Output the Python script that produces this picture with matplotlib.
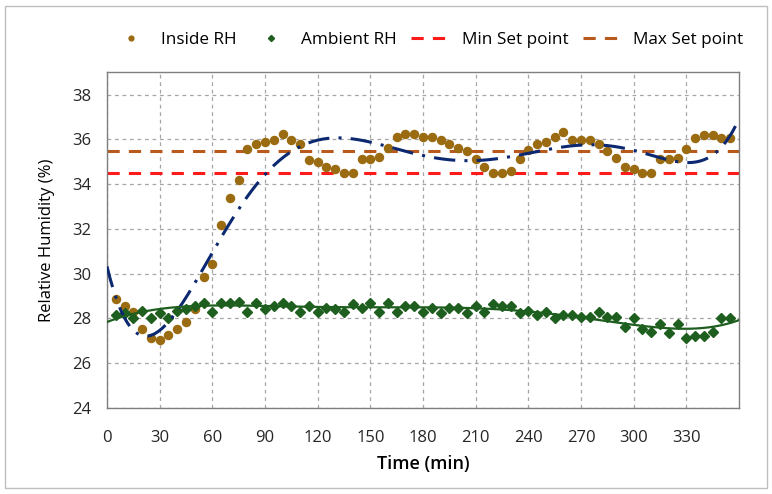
import numpy as np
import matplotlib.pyplot as plt
from matplotlib.patches import Rectangle

# ---- data ----
time_min = np.arange(5, 360, 5)

inside_rh = [28.85, 28.57, 28.29, 27.54, 27.11, 27.02, 27.25, 27.54, 27.84, 28.43,
             29.86, 30.45, 32.16, 33.39, 34.19, 35.58, 35.79, 35.90, 35.98, 36.22,
             35.97, 35.79, 35.07, 34.97, 34.77, 34.66, 34.50, 34.50, 35.10, 35.10,
             35.19, 35.59, 36.11, 36.22, 36.22, 36.11, 36.11, 35.96, 35.79, 35.59,
             35.50, 35.10, 34.77, 34.50, 34.50, 34.60, 35.10, 35.52, 35.79, 35.89,
             36.11, 36.31, 35.96, 35.96, 35.96, 35.79, 35.49, 35.15, 34.77, 34.66,
             34.50, 34.50, 35.10, 35.10, 35.17, 35.58, 36.08, 36.20, 36.20, 36.08,
             36.08]

ambient_rh = [28.15, 28.25, 28.02, 28.33, 28.02, 28.25, 28.02, 28.33, 28.41, 28.55,
              28.67, 28.30, 28.67, 28.67, 28.75, 28.30, 28.67, 28.43, 28.55, 28.67,
              28.55, 28.27, 28.55, 28.30, 28.45, 28.41, 28.30, 28.64, 28.45, 28.67,
              28.30, 28.67, 28.30, 28.55, 28.55, 28.30, 28.45, 28.23, 28.45, 28.45,
              28.23, 28.55, 28.30, 28.64, 28.55, 28.55, 28.25, 28.35, 28.15, 28.27,
              28.03, 28.15, 28.15, 28.05, 28.05, 28.27, 28.05, 28.05, 27.63, 28.03,
              27.51, 27.41, 27.75, 27.33, 27.75, 27.11, 27.21, 27.21, 27.41, 28.03,
              28.03]

# polynomial trendlines as shown in the chart (values read every 15 min)
trend_time = np.arange(0, 361, 15)
inside_trend = [30.3, 27.5, 27.5, 29.0, 30.75, 32.9, 34.45, 35.5, 35.98, 36.1,
                35.87, 35.55, 35.25, 35.03, 35.02, 35.17, 35.42, 35.66, 35.8, 35.7,
                35.42, 35.13, 34.97, 35.4, 36.86]
ambient_trend = [27.82, 28.25, 28.42, 28.52, 28.58, 28.58, 28.55, 28.52, 28.5, 28.52,
                 28.53, 28.52, 28.5, 28.47, 28.45, 28.4, 28.28, 28.17, 28.05, 27.9,
                 27.76, 27.6, 27.5, 27.6, 27.95]

min_set_point = 34.5
max_set_point = 35.5

x_ticks = list(range(0, 331, 30))
y_ticks = list(range(24, 39, 2))

# smooth order-6 trend curves through the read trendline values
t_fine = np.linspace(0, 360, 400)
inside_fit = np.polynomial.Polynomial.fit(trend_time, inside_trend, 6)
ambient_fit = np.polynomial.Polynomial.fit(trend_time, ambient_trend, 6)

plt.rcParams['font.family'] = ['Open Sans', 'DejaVu Sans']

fig = plt.figure(figsize=(7.72, 4.94), dpi=100)
ax = fig.add_axes([0.1386, 0.174, 0.8186, 0.680])

brown = '#9A6B10'
green = '#1E5E1E'
navy = '#0B2870'

ax.plot(time_min, inside_rh, 'o', color=brown, markersize=5.8, zorder=3,
        label='Inside RH')
ax.plot(time_min, ambient_rh, 'D', color=green, markersize=5.2, zorder=3,
        label='Ambient RH')
ax.axhline(min_set_point, color='#FF1A1A', lw=2.2, ls=(0, (4, 3)), zorder=2,
           label='Min Set point')
ax.axhline(max_set_point, color='#B85A1E', lw=2.2, ls=(0, (4, 3)), zorder=2,
           label='Max Set point')

ax.plot(t_fine, inside_fit(t_fine), color=navy, lw=2.2,
        ls=(0, (7, 3, 1, 3)), zorder=4)
ax.plot(t_fine, ambient_fit(t_fine), color=green, lw=1.6, zorder=4)

ax.set_xlim(0, 360)
ax.set_ylim(24, 39)
ax.set_xticks(x_ticks)
ax.set_yticks(y_ticks)
ax.tick_params(labelsize=12, length=0, colors='#262626')
ax.tick_params(axis='x', pad=16)
ax.tick_params(axis='y', pad=11)
ax.grid(True, color='#A6A6A6', ls=(0, (3, 3)), lw=0.9)
for s in ax.spines.values():
    s.set_color('#7F7F7F')
    s.set_linewidth(1.0)

ax.set_xlabel('Time (min)', fontsize=13, fontweight='semibold', labelpad=6)
ax.set_ylabel('Relative Humidity (%)', fontsize=12, labelpad=13)

handles, labels = ax.get_legend_handles_labels()
leg = fig.legend(handles, labels, loc='center', ncol=4, frameon=False,
                 bbox_to_anchor=(0.553, 0.919), fontsize=12.3, markerscale=0.6,
                 handlelength=2.4, columnspacing=0.85, handletextpad=0.55)

# light chart-area border
fig.patches.append(Rectangle((0.006, 0.012), 0.988, 0.976, transform=fig.transFigure,
                             fill=False, edgecolor='#BFBFBF', lw=1.0))

fig.savefig('out.png', dpi=100)
